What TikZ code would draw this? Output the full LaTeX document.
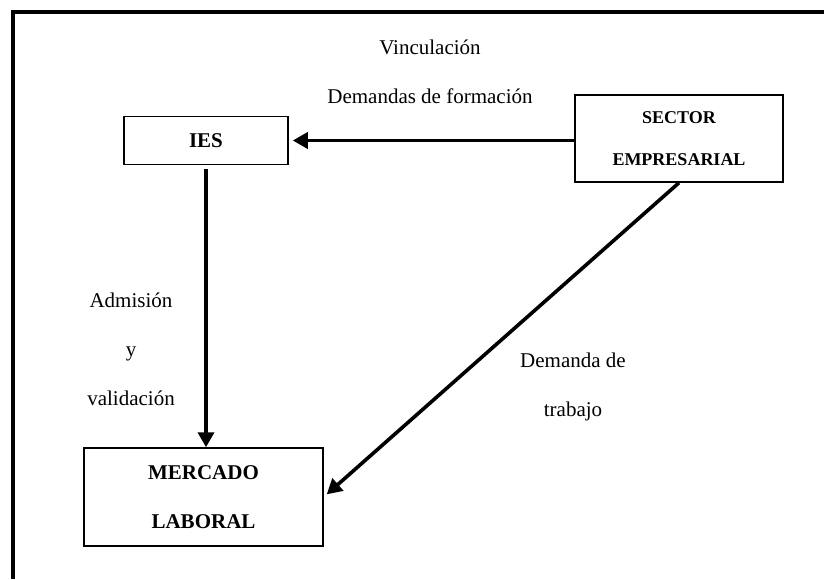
\documentclass[tikz,border=0pt]{standalone}
\usepackage{fontspec}
\setmainfont{Liberation Serif}
\usepackage{tikz}
\usetikzlibrary{arrows.meta, positioning, calc}

\begin{document}
\begin{tikzpicture}[
    x=0.5pt, y=-0.5pt,
    box/.style={draw, line width=0.75pt, align=center, inner sep=0pt, font=\fontsize{10.5}{24.5}\selectfont\bfseries},
    lbl/.style={align=center, inner sep=0pt, font=\fontsize{10.5}{24.5}\selectfont},
    arrow/.style={-{Triangle[length=7.5pt, width=8pt]}, line width=1.8pt, shorten >=2pt}
]
    \useasboundingbox (0,0) rectangle (824,579);
    % page frame
    \draw[line width=2pt] (824,12) -- (13,12) -- (13,579);

    \node[box, minimum width=82pt, minimum height=24pt] at (206,140.5) (ies) {IES};
    \node[box, minimum width=104pt, minimum height=43.5pt, font=\fontsize{9}{21}\selectfont\bfseries] at (679,138.5) (sector) {SECTOR\\EMPRESARIAL};
    \node[box, minimum width=119.5pt, minimum height=49pt] at (203.5,497) (mercado) {MERCADO\\LABORAL};

    \node[lbl] at (430,72) (vinc) {Vinculación\\Demandas de formación};
    \node[lbl] at (131,349) (admis) {Admisión\\y\\validación};
    \node[lbl] at (573,387) (demtrab) {Demanda de\\trabajo};

    \draw[arrow] (sector.west |- ies.east) -- (ies.east);
    \draw[arrow, shorten <=2pt, shorten >=0pt] (ies.south) -- (ies.south |- mercado.north);
    \draw[arrow] (sector.south) -- (mercado.east);
\end{tikzpicture}
\end{document}
